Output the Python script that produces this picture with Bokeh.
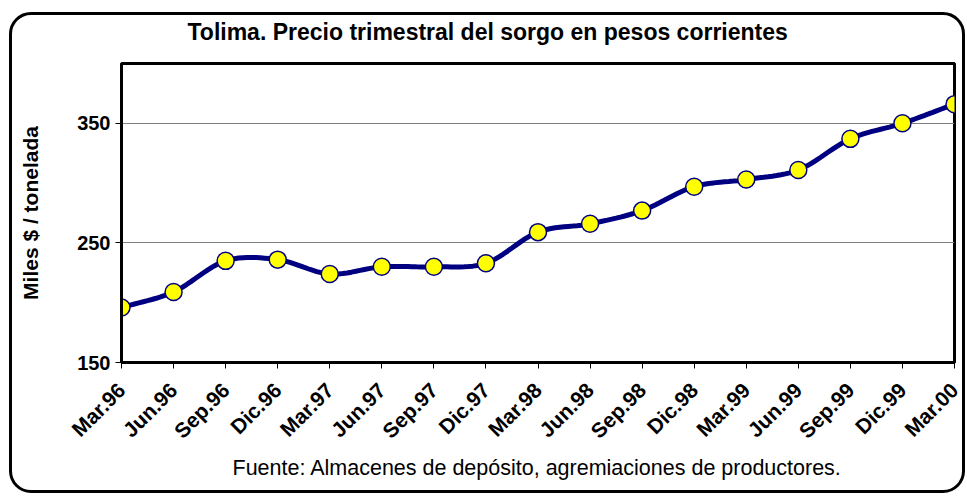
import numpy as np
from bokeh.plotting import figure
from bokeh.models import FixedTicker, Range1d, Title
from bokeh.embed import file_html
from bokeh.resources import INLINE

# ---- data ----
quarters = ["Mar.96", "Jun.96", "Sep.96", "Dic.96", "Mar.97", "Jun.97", "Sep.97", "Dic.97",
            "Mar.98", "Jun.98", "Sep.98", "Dic.98", "Mar.99", "Jun.99", "Sep.99", "Dic.99", "Mar.00"]
precio = [196, 209, 235, 236, 224, 230, 230, 233,
          259, 266, 277, 297, 303, 311, 337, 350, 366]
y_ticks = [150, 250, 350]

title_text = "Tolima. Precio trimestral del sorgo en pesos corrientes"
source_text = "Fuente: Almacenes de depósito, agremiaciones de productores."
y_label = "Miles $ / tonelada"

FONT = "Liberation Sans"
W, H = 956, 481

x = list(range(len(quarters)))

p = figure(width=W, height=H, output_backend="svg", toolbar_location=None,
           x_range=Range1d(0, len(quarters) - 1), y_range=Range1d(150, 400),
           min_border_left=109, min_border_right=14, min_border_top=48, min_border_bottom=134)
p.styles = {"border": "3px solid black", "border-radius": "22px", "margin": "12px 0 0 9px"}
p.border_fill_color = None
p.background_fill_color = "white"
p.outline_line_color = "black"
p.outline_line_width = 3

# smoothed line (Catmull-Rom through the data points)
def smooth(xs, ys, n=12):
    xs = np.asarray(xs, float); ys = np.asarray(ys, float)
    px = np.concatenate([[2 * xs[0] - xs[1]], xs, [2 * xs[-1] - xs[-2]]])
    py = np.concatenate([[2 * ys[0] - ys[1]], ys, [2 * ys[-1] - ys[-2]]])
    ox, oy = [], []
    for i in range(1, len(px) - 2):
        t = np.linspace(0, 1, n, endpoint=False)
        for P, out in ((px, ox), (py, oy)):
            p0, p1, p2, p3 = P[i - 1], P[i], P[i + 1], P[i + 2]
            out.extend(0.5 * ((2 * p1) + (-p0 + p2) * t + (2 * p0 - 5 * p1 + 4 * p2 - p3) * t ** 2
                              + (-p0 + 3 * p1 - 3 * p2 + p3) * t ** 3))
    ox.append(xs[-1]); oy.append(ys[-1])
    return ox, oy

sx, sy = smooth(x, precio)
p.line(sx, sy, line_color="#000080", line_width=5)
p.scatter(x, precio, size=17, fill_color="#FFFF00", line_color="#000080", line_width=1.5)

# axes
p.xaxis.ticker = FixedTicker(ticks=x)
p.xaxis.major_label_overrides = {i: q for i, q in enumerate(quarters)}
p.xaxis.major_label_orientation = np.pi / 4
p.xaxis.major_label_text_font = FONT
p.xaxis.major_label_text_font_style = "bold"
p.xaxis.major_label_text_font_size = "21px"
p.xaxis.major_label_text_color = "black"
p.xaxis.major_label_standoff = 18
p.xaxis.major_tick_out = 6
p.xaxis.major_tick_in = 0
p.xaxis.minor_tick_line_color = None
p.xaxis.axis_line_color = "black"
p.xaxis.axis_line_width = 3
p.xaxis.major_tick_line_color = "black"

p.yaxis.ticker = FixedTicker(ticks=y_ticks)
p.yaxis.major_label_text_font = FONT
p.yaxis.major_label_text_font_style = "bold"
p.yaxis.major_label_text_font_size = "20px"
p.yaxis.major_label_text_color = "black"
p.yaxis.major_tick_out = 6
p.yaxis.major_tick_in = 0
p.yaxis.minor_tick_line_color = None
p.yaxis.axis_line_color = "black"
p.yaxis.axis_line_width = 3
p.yaxis.axis_label = y_label
p.yaxis.axis_label_text_font = FONT
p.yaxis.axis_label_text_font_style = "bold"
p.yaxis.axis_label_text_font_size = "21px"
p.yaxis.axis_label_text_color = "black"
p.yaxis.axis_label_standoff = 32

p.xgrid.grid_line_color = None
p.ygrid.grid_line_color = "#808080"
p.ygrid.grid_line_width = 1

# spacer panel next to the frame, then the main title above it
p.add_layout(Title(text=" ", text_font=FONT, text_font_size="8px", standoff=6), "above")
p.add_layout(Title(text=title_text, align="left", offset=66, vertical_align="top", standoff=0,
                   text_font=FONT, text_font_style="bold", text_font_size="23px",
                   text_color="black"), "above")

p.add_layout(Title(text=source_text, align="left", offset=111, standoff=0, text_font=FONT,
                   text_font_style="normal", text_font_size="21.5px", text_color="black"), "below")

open("out.html", "w").write(file_html(p, INLINE))
